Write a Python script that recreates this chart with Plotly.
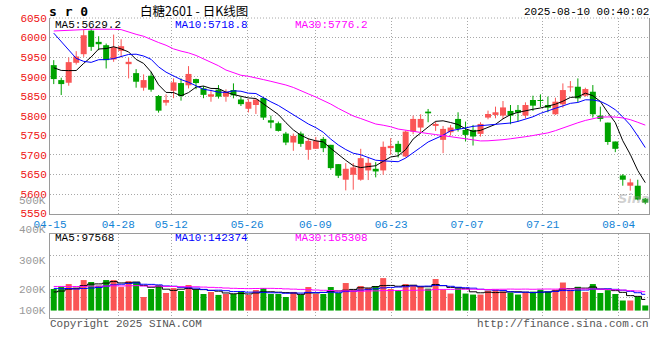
import plotly.graph_objects as go

# ---------------- data ----------------
title_code = "s r 0"
title_text = "白糖2601 - 日K线图"
timestamp = "2025-08-10 00:40:02"
copyright_text = "Copyright 2025 SINA.COM"
site_text = "http://finance.sina.com.cn"

dates = ["04-15", "04-16", "04-17", "04-18", "04-21", "04-22", "04-23", "04-24", "04-25", "04-28",
         "04-29", "04-30", "05-06", "05-07", "05-08", "05-09", "05-12", "05-13", "05-14", "05-15",
         "05-16", "05-19", "05-20", "05-21", "05-22", "05-23", "05-26", "05-27", "05-28", "05-29",
         "05-30", "06-03", "06-04", "06-05", "06-06", "06-09", "06-10", "06-11", "06-12", "06-13",
         "06-16", "06-17", "06-18", "06-19", "06-20", "06-23", "06-24", "06-25", "06-26", "06-27",
         "06-30", "07-01", "07-02", "07-03", "07-04", "07-07", "07-08", "07-09", "07-10", "07-11",
         "07-14", "07-15", "07-16", "07-17", "07-18", "07-21", "07-22", "07-23", "07-24", "07-25",
         "07-28", "07-29", "07-30", "07-31", "08-01", "08-04", "08-05", "08-06", "08-07", "08-08"]

opens = [5929.5, 5891.3, 5884.5, 5935.5, 5957.5, 6017.8, 5989.0, 5980.5, 5944.0, 5966.0,
         5932.0, 5909.1, 5871.8, 5902.4, 5850.6, 5833.6, 5864.1, 5883.7, 5878.0, 5893.9,
         5870.1, 5849.0, 5867.0, 5849.0, 5866.0, 5841.7, 5818.0, 5827.6, 5845.5, 5788.6,
         5781.0, 5754.6, 5731.7, 5754.6, 5713.0, 5715.6, 5741.0, 5725.8, 5676.5, 5636.6,
         5649.3, 5636.6, 5660.4, 5664.6, 5660.4, 5717.3, 5728.3, 5696.0, 5759.7, 5769.9,
         5810.7, 5774.1, 5738.5, 5758.0, 5792.0, 5764.0, 5764.0, 5753.8, 5795.4, 5802.2,
         5800.5, 5812.4, 5815.0, 5800.5, 5840.4, 5840.4, 5827.6, 5803.9, 5829.3, 5872.6,
         5874.3, 5851.4, 5861.6, 5800.5, 5782.6, 5734.3, 5647.6, 5621.3, 5621.3, 5588.2]
highs = [5942.3, 5897.3, 5949.1, 5965.2, 6021.2, 6022.9, 6003.4, 5984.7, 6007.6, 5995.7,
         5948.2, 5919.3, 5905.8, 5912.5, 5853.1, 5854.8, 5895.6, 5895.6, 5927.0, 5895.0,
         5876.0, 5866.0, 5878.6, 5867.6, 5882.9, 5849.0, 5842.5, 5841.6, 5848.0, 5800.5,
         5785.2, 5758.9, 5754.6, 5759.7, 5742.7, 5746.0, 5746.0, 5725.8, 5676.5, 5679.0,
         5679.0, 5715.6, 5693.5, 5681.6, 5734.3, 5742.7, 5736.0, 5762.0, 5800.5, 5803.9,
         5817.5, 5785.2, 5774.1, 5776.7, 5809.0, 5785.2, 5776.7, 5783.5, 5813.2, 5823.4,
         5837.8, 5827.6, 5827.6, 5834.4, 5851.4, 5854.8, 5848.9, 5846.3, 5882.8, 5888.8,
         5895.6, 5871.8, 5878.6, 5823.4, 5782.6, 5734.3, 5651.0, 5639.1, 5636.6, 5590.0]
lows = [5881.1, 5853.1, 5876.9, 5931.0, 5950.7, 5966.0, 5967.7, 5921.0, 5938.0, 5949.1,
        5895.6, 5871.8, 5864.1, 5861.6, 5808.1, 5826.0, 5845.0, 5838.7, 5870.0, 5868.0,
        5845.0, 5836.0, 5844.0, 5836.0, 5844.7, 5825.1, 5808.6, 5804.7, 5789.4, 5768.2,
        5759.7, 5725.0, 5710.5, 5720.7, 5687.6, 5715.6, 5707.1, 5662.0, 5640.9, 5609.4,
        5611.1, 5634.1, 5635.8, 5642.6, 5649.3, 5700.3, 5693.5, 5694.0, 5753.0, 5758.0,
        5783.5, 5761.4, 5704.5, 5749.5, 5759.7, 5734.3, 5724.0, 5747.0, 5791.1, 5793.7,
        5792.0, 5778.4, 5785.2, 5793.7, 5812.4, 5822.5, 5809.0, 5802.2, 5820.8, 5861.6,
        5834.4, 5848.9, 5795.4, 5785.2, 5725.8, 5707.1, 5621.3, 5608.6, 5584.0, 5574.0]
closes = [5893.9, 5881.1, 5937.2, 5951.6, 6005.9, 5976.2, 5983.0, 5942.3, 5975.4, 5977.9,
          5938.0, 5887.1, 5891.3, 5866.7, 5813.2, 5840.4, 5885.4, 5850.6, 5907.0, 5883.7,
          5853.6, 5855.0, 5849.0, 5861.6, 5852.3, 5829.8, 5835.7, 5841.6, 5795.4, 5782.6,
          5761.4, 5731.7, 5748.7, 5728.3, 5736.0, 5736.0, 5717.3, 5666.3, 5646.8, 5664.6,
          5668.0, 5691.8, 5679.9, 5657.8, 5720.7, 5723.2, 5707.1, 5759.7, 5792.0, 5792.0,
          5806.4, 5779.2, 5766.5, 5770.0, 5766.5, 5751.2, 5747.0, 5779.2, 5804.7, 5809.0,
          5821.4, 5800.5, 5808.1, 5827.6, 5825.9, 5837.8, 5820.8, 5836.1, 5865.8, 5874.3,
          5844.6, 5868.4, 5804.0, 5792.0, 5733.0, 5715.6, 5636.6, 5629.8, 5586.0, 5578.0]
volumes = [189000, 209000, 232000, 200000, 267000, 250000, 218000, 267000, 267000, 206000,
           258000, 250000, 119000, 189000, 224000, 154000, 197000, 171000, 224000, 180000,
           145000, 163000, 137000, 145000, 145000, 163000, 137000, 180000, 197000, 145000,
           145000, 119000, 163000, 137000, 206000, 145000, 145000, 206000, 154000, 241000,
           180000, 215000, 197000, 215000, 284000, 189000, 180000, 232000, 224000, 215000,
           192000, 276000, 183000, 149000, 200000, 149000, 140000, 140000, 175000, 183000,
           166000, 158000, 140000, 158000, 166000, 183000, 166000, 183000, 245500, 183000,
           208000, 163000, 232000, 154000, 178900, 145000, 88000, 88000, 122000, 44840]

# closes / volumes of the 29 sessions before the first candle (needed for the MAs)
prev_closes = [5866, 5907, 5922, 5976, 5946, 5968, 5942, 5990, 6008, 6148,
               6037, 6041, 6125, 6035, 6050, 6164, 6022, 6042, 6079, 6123,
               6093, 6132, 6190, 6082, 6002, 5915, 5940, 5950, 5915]
prev_volumes = [205000, 232000, 214000, 226000, 198000, 241000, 219000, 210000, 236000, 222000,
                208000, 229000, 217000, 203000, 238000, 221000, 212000, 226000, 207000, 225000,
                238000, 212000, 246000, 219000, 210000, 171000, 148000, 160000, 147000]

tick_labels = ["04-15", "04-28", "05-12", "05-26", "06-09", "06-23", "07-07", "07-21", "08-04"]
price_ticks = [5550, 5600, 5650, 5700, 5750, 5800, 5850, 5900, 5950, 6000, 6050]
vol_labels = ["500K", "400K", "300K", "200K", "100K"]
ma_windows = [5, 10, 30]

# ---------------- styles ----------------
RED = "#fa5555"
GREEN = "#00a300"
MA_COLORS = ["#000000", "#0000ff", "#ff00ff"]
GRID = "#a8a8a8"
BORDER = "#9a9a9a"
MONO = "Liberation Mono, DejaVu Sans Mono, monospace"
W, H = 660, 360
L, R, T, B = 50, 11, 18, 42
PW, PH = W - L - R, H - T - B


def px_x(x):
    return (x - L) / PW


def px_y(y):
    return (H - B - y) / PH


def moving_avg(prev, cur, w):
    full = list(prev) + list(cur)
    off = len(prev)
    return [sum(full[off + i - w + 1: off + i + 1]) / w for i in range(len(cur))]


n = len(dates)
idx = list(range(n))
up = [c >= o for o, c in zip(opens, closes)]
colors = [RED if u else GREEN for u in up]

fig = go.Figure()

# wicks
for flag, col in [(True, RED), (False, GREEN)]:
    wx, wy = [], []
    for i in idx:
        if up[i] == flag:
            wx += [i, i, None]
            wy += [lows[i], highs[i], None]
    fig.add_trace(go.Scatter(x=wx, y=wy, mode="lines", line=dict(color=col, width=1),
                             hoverinfo="skip", xaxis="x", yaxis="y"))

# bodies
body_base = [min(o, c) for o, c in zip(opens, closes)]
body_h = [max(abs(c - o), 2.5) for o, c in zip(opens, closes)]
fig.add_trace(go.Bar(x=idx, y=body_h, base=body_base, width=0.8,
                     marker=dict(color=colors, line=dict(width=0)),
                     hoverinfo="skip", xaxis="x", yaxis="y"))

# price MAs
price_ma = [moving_avg(prev_closes, closes, w) for w in ma_windows]
for ma, col in zip(price_ma, MA_COLORS):
    fig.add_trace(go.Scatter(x=idx, y=ma, mode="lines", line=dict(color=col, width=1),
                             hoverinfo="skip", xaxis="x", yaxis="y"))

# volume
fig.add_trace(go.Bar(x=idx, y=volumes, width=0.8,
                     marker=dict(color=colors, line=dict(width=0)),
                     hoverinfo="skip", xaxis="x2", yaxis="y2"))
vol_ma = [moving_avg(prev_volumes, volumes, w) for w in ma_windows]
for ma, col in zip(vol_ma, MA_COLORS):
    fig.add_trace(go.Scatter(x=idx, y=ma, mode="lines", line=dict(color=col, width=1, shape="hvh"),
                             hoverinfo="skip", xaxis="x2", yaxis="y2"))

# tick positions (sina spreads the date grid over n-1 steps)
tickvals = [dates.index(t) * n / (n - 1) - 0.5 for t in tick_labels]
xr = [-0.5, n - 0.5]
vol_range = [-65000, 670000]
vol_grid = [vol_range[0] + (vol_range[1] - vol_range[0]) * k / 4 for k in (1, 2, 3)]

price_dom = [px_y(214), 1.0]
vol_dom = [0.0, px_y(234)]

grid_common = dict(showgrid=True, gridcolor=GRID, griddash="1px,2px", gridwidth=1,
                   zeroline=False, ticks="", automargin=False)

fig.update_layout(
    width=W, height=H, margin=dict(l=L, r=R, t=T, b=B, pad=0, autoexpand=False),
    paper_bgcolor="white", plot_bgcolor="white", showlegend=False,
    barmode="overlay", hovermode=False,
    xaxis=dict(domain=[0, 1], anchor="y", range=xr, tickmode="array", tickvals=tickvals,
               ticktext=tick_labels, tickfont=dict(family=MONO, size=11, color="#1283d6"),
               showline=True, linecolor=BORDER, linewidth=1, mirror=False, **grid_common),
    yaxis=dict(domain=price_dom, anchor="x", range=[price_ticks[0] - 1, price_ticks[-1]],
               tickmode="array", tickvals=price_ticks,
               ticktext=[str(v) for v in price_ticks],
               tickfont=dict(family=MONO, size=11, color="#ee1111"),
               showline=True, linecolor=BORDER, linewidth=1, mirror=True, **grid_common),
    xaxis2=dict(domain=[0, 1], anchor="y2", range=xr, matches="x", tickmode="array",
                tickvals=tickvals, showticklabels=False,
                showline=True, linecolor=BORDER, linewidth=1, mirror=True, **grid_common),
    yaxis2=dict(domain=vol_dom, anchor="x2", range=vol_range, tickmode="array",
                tickvals=vol_grid, showticklabels=False,
                showline=True, linecolor=BORDER, linewidth=1, mirror=True, **grid_common),
)

# dotted top border of the price panel
fig.add_shape(type="line", xref="paper", yref="paper", x0=0, x1=1, y0=1, y1=1,
              line=dict(color=GRID, width=1, dash="1px,2px"))

ann = []


def text(x, y, s, color="#000", size=11, anchor="left", family=MONO, bold=False, **kw):
    if bold:
        s = "<b>" + s + "</b>"
    ann.append(dict(x=px_x(x), y=px_y(y), xref="paper", yref="paper", text=s, showarrow=False,
                    xanchor=anchor, yanchor="middle", font=dict(family=family, size=size, color=color),
                    **kw))


text(47, 11.5, title_code, size=13, bold=True, family="DejaVu Sans Mono, monospace")
text(138, 11, title_text, size=12.5, family="Noto Sans CJK SC, sans-serif")
text(651, 12, timestamp, anchor="right")

# MA legends
legend_x = [53, 173, 293]
for k, (w, col) in enumerate(zip(ma_windows, MA_COLORS)):
    text(legend_x[k], 25, f"MA{w}:{price_ma[k][-1]:.1f}", color=col)
    text(legend_x[k], 238, f"MA{w}:{round(vol_ma[k][-1])}", color=col)

# volume axis labels (as drawn by sina, offset from the grid)
vol_label_y = [201, 230.5, 260.5, 290, 310.5]
for lab, yy in zip(vol_labels, vol_label_y):
    text(48, yy, lab, color="#999999", anchor="right")

text(48, 324, copyright_text, color="#555555")
text(651, 324, site_text, color="#555555", anchor="right")

# faint watermark
text(634, 199, "<i>Sina</i>", color="rgba(150,150,150,0.45)", size=13, anchor="center",
     family="DejaVu Sans, sans-serif", bold=True)

fig.update_layout(annotations=ann)
fig.write_html("out.html", config={"displayModeBar": False, "staticPlot": True},
               post_script="document.body.style.margin='0';document.body.style.overflow='hidden';")
